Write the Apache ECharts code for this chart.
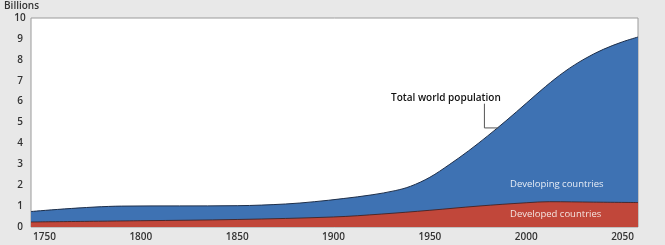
<!DOCTYPE html>
<html>
<head>
<meta charset="utf-8">
<script src="https://cdn.jsdelivr.net/npm/echarts@6/dist/echarts.min.js"></script>
<style>
html,body{margin:0;padding:0;background:#e8e8e8;}
#c{width:665px;height:245px;}
</style>
</head>
<body>
<div id="c"></div>
<script>
// Tick labels
var xTickLabels = [1750, 1800, 1850, 1900, 1950, 2000, 2050];
var yTickLabels = [0,1,2,3,4,5,6,7,8,9,10];

// Total world population (billions) — top of blue area
var totalYears = [1743, 1790, 1850, 1875, 1890, 1905, 1920, 1932, 1940, 1950, 1960, 1970, 1980, 1990, 2000, 2010, 2020, 2030, 2040, 2050, 2058];
var totalVals  = [0.74, 1.00, 1.02, 1.10, 1.21, 1.36, 1.54, 1.74, 1.95, 2.38, 2.98, 3.64, 4.36, 5.12, 5.92, 6.72, 7.44, 8.03, 8.50, 8.86, 9.09];

// Developed countries (billions) — top of red area
var devYears = [1743, 1800, 1850, 1900, 1925, 1950, 1975, 2000, 2012, 2035, 2058];
var devVals  = [0.24, 0.30, 0.36, 0.48, 0.62, 0.80, 1.00, 1.16, 1.21, 1.19, 1.17];

function pairs(xs, ys){ return xs.map(function(x,i){ return [x, ys[i]]; }); }

var chart = echarts.init(document.getElementById('c'), null, {renderer:'canvas'});
var font = 'Open Sans, Noto Sans, sans-serif';
chart.setOption({
  animation:false,
  backgroundColor:'#e8e8e8',
  grid:{left:31, right:27, top:18, bottom:18, show:true, backgroundColor:'#ffffff', borderColor:'#9a9a9a', borderWidth:1},
  xAxis:{
    type:'value', min:1743, max:2058,
    axisLine:{show:false}, axisTick:{show:false}, splitLine:{show:false},
    axisLabel:{customValues:xTickLabels, formatter:function(v){return String(v);}, color:'#333', fontSize:10, fontWeight:600, fontFamily:font, margin:5}
  },
  yAxis:{
    type:'value', min:0, max:10, interval:1,
    axisLine:{show:false}, axisTick:{show:false}, splitLine:{show:false},
    axisLabel:{color:'#333', fontSize:10, fontWeight:600, fontFamily:font, align:'center', margin:11}
  },
  series:[
    {
      name:'Total', type:'line', data:pairs(totalYears,totalVals), symbol:'none',
      smooth:0.35,
      lineStyle:{color:'#1e2f4a', width:1},
      areaStyle:{color:'#3e72b3', opacity:1}, z:2
    },
    {
      name:'Developed', type:'line', data:pairs(devYears,devVals), symbol:'none',
      smooth:0.35,
      lineStyle:{color:'#3a1c1a', width:0.8},
      areaStyle:{color:'#c1473a', opacity:1}, z:3
    }
  ]
});

var p1 = chart.convertToPixel({gridIndex:0}, [1978.3, 5.9]);
var p2 = chart.convertToPixel({gridIndex:0}, [1978.3, 4.74]);
var p3 = chart.convertToPixel({gridIndex:0}, [1985.5, 4.74]);

chart.setOption({
  graphic:[
    {type:'text', left:4, top:1, style:{text:'Billions', fill:'#333', font:'600 10px '+font}},
    {type:'text', left:391, top:93, style:{text:'Total world population', fill:'#111', font:'600 10px '+font}},
    {type:'polyline', shape:{points:[p1,p2,p3]}, style:{stroke:'#555', lineWidth:1, fill:null}, z:10},
    {type:'text', left:510, top:179, style:{text:'Developing countries', fill:'#e6ecf5', font:'9.5px '+font}, z:10},
    {type:'text', left:510, top:209, style:{text:'Developed countries', fill:'#f4e4e0', font:'9.5px '+font}, z:10}
  ]
});
</script>
</body>
</html>
